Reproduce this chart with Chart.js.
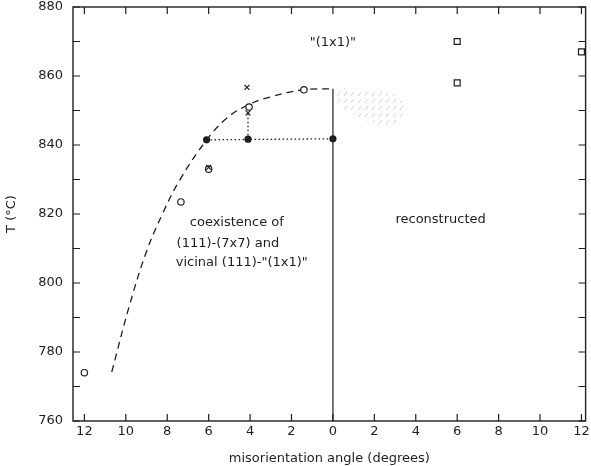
<!DOCTYPE html>
<html>
<head>
<meta charset="utf-8">
<script src="https://cdn.jsdelivr.net/npm/chart.js@4/dist/chart.umd.min.js"></script>
<style>
  html, body { margin: 0; padding: 0; background: #fff; }
  #wrap { width: 591px; height: 466px; }
</style>
</head>
<body>
<div id="wrap"><canvas id="phaseChart"></canvas></div>
<script>
// misorientation angle (left half negative, shown as absolute value) / T in degC
var xTicks = [-12, -10, -8, -6, -4, -2, 0, 2, 4, 6, 8, 10, 12];
var yTicks = [760, 780, 800, 820, 840, 860, 880];
var yMinor = [770, 790, 810, 830, 850, 870];

var boundaryX = [-10.68, -9.8, -8.99, -8.21, -7.39, -6.13, -5.12, -4.1, -3.04, -1.45, 0];
var boundaryT = [774.2, 794, 809.3, 820.3, 829.9, 841.2, 847.8, 851.6, 853.9, 856, 856.3];

var openX = [-12, -7.34, -6.0, -4.05, -1.4];
var openT = [774, 823.5, 833, 851, 856];

var filledX = [-6.1, -4.1, 0];
var filledT = [841.5, 841.7, 841.8];

var crossX = [-6.0, -4.15, -4.1];
var crossT = [833.5, 856.7, 849.3];

var squareX = [6, 6, 12];
var squareT = [870, 858, 867];

var hatchX = [0.2, 1.5, 2.8, 3.5, 3.4, 2.6, 1.5, 0.6, 0.2, 0.2];
var hatchT = [856.5, 856.2, 855, 852, 847.5, 845, 847.5, 850, 852, 856.5];

function pts(xs, ys) {
    return xs.map(function (x, i) { return { x: x, y: ys[i] }; });
}

var ink = "#1e1e1e";
var fontFam = "'DejaVu Sans', sans-serif";

// faint broken diagonal strokes for the stippled area
var pc = document.createElement("canvas");
pc.width = 7; pc.height = 7;
var pctx = pc.getContext("2d");
pctx.strokeStyle = "rgba(130,130,130,0.35)";
pctx.lineWidth = 1;
pctx.beginPath();
pctx.moveTo(1, 5); pctx.lineTo(4, 1);
pctx.stroke();
var hatchPattern = pctx.createPattern(pc, "repeat");

var notes = [
    { text: '"(1x1)"', x: 0.0, y: 869.6 },
    { text: "coexistence of", x: -4.64, y: 817.4 },
    { text: "(111)-(7x7) and", x: -5.07, y: 811.3 },
    { text: 'vicinal (111)-"(1x1)"', x: -4.4, y: 805.8 },
    { text: "reconstructed", x: 5.2, y: 818.3 }
];

var framePlugin = {
    id: "frame",
    afterDatasetsDraw: function (chart) {
        var ctx = chart.ctx, a = chart.chartArea;
        var xs = chart.scales.x, ys = chart.scales.y;
        ctx.save();
        ctx.strokeStyle = ink;
        ctx.lineWidth = 1.4;
        ctx.strokeRect(a.left, a.top, a.right - a.left, a.bottom - a.top);
        ctx.lineWidth = 1.2;
        ctx.beginPath();
        xTicks.forEach(function (v) {
            var p = xs.getPixelForValue(v);
            ctx.moveTo(p, a.bottom); ctx.lineTo(p, a.bottom - 7);
            ctx.moveTo(p, a.top); ctx.lineTo(p, a.top + 7);
        });
        yTicks.concat(yMinor).forEach(function (v) {
            var p = ys.getPixelForValue(v);
            ctx.moveTo(a.left, p); ctx.lineTo(a.left + 7, p);
            ctx.moveTo(a.right, p); ctx.lineTo(a.right - 7, p);
        });
        ctx.stroke();
        ctx.fillStyle = ink;
        ctx.font = "13px " + fontFam;
        ctx.textAlign = "center";
        ctx.textBaseline = "middle";
        notes.forEach(function (n) {
            ctx.fillText(n.text, xs.getPixelForValue(n.x), ys.getPixelForValue(n.y));
        });
        ctx.restore();
    }
};

(function () {
    var obj = document.getElementById("phaseChart").getContext("2d");
    new Chart(obj, {
        type: "scatter",
        data: {
            datasets: [
                {
                    label: "hatch",
                    data: pts(hatchX, hatchT),
                    showLine: true,
                    fill: "shape",
                    backgroundColor: hatchPattern,
                    borderWidth: 0,
                    pointRadius: 0,
                    order: 9
                },
                {
                    label: "boundary",
                    data: pts(boundaryX, boundaryT),
                    showLine: true,
                    tension: 0.4,
                    borderColor: ink,
                    borderWidth: 1.3,
                    borderDash: [7, 5],
                    pointRadius: 0,
                    order: 8
                },
                {
                    label: "zero line",
                    data: [{ x: 0, y: 856.3 }, { x: 0, y: 760 }],
                    showLine: true,
                    borderColor: ink,
                    borderWidth: 1.2,
                    pointRadius: 0,
                    order: 8
                },
                {
                    label: "dotted h",
                    data: [{ x: filledX[0], y: filledT[0] }, { x: filledX[2], y: filledT[2] }],
                    showLine: true,
                    borderColor: ink,
                    borderWidth: 1.3,
                    borderDash: [1.5, 2.5],
                    pointRadius: 0,
                    order: 8
                },
                {
                    label: "dotted v",
                    data: [{ x: filledX[1], y: filledT[1] }, { x: crossX[2], y: crossT[2] }],
                    showLine: true,
                    borderColor: ink,
                    borderWidth: 1.3,
                    borderDash: [1.5, 2.5],
                    pointRadius: 0,
                    order: 8
                },
                {
                    label: "open",
                    data: pts(openX, openT),
                    pointStyle: "circle",
                    pointRadius: 3.2,
                    pointBorderWidth: 1.2,
                    pointBorderColor: ink,
                    pointBackgroundColor: "#fff",
                    order: 2
                },
                {
                    label: "cross",
                    data: pts(crossX, crossT),
                    pointStyle: "crossRot",
                    pointRadius: 3.5,
                    pointBorderWidth: 1.2,
                    pointBorderColor: ink,
                    order: 1
                },
                {
                    label: "filled",
                    data: pts(filledX, filledT),
                    pointStyle: "circle",
                    pointRadius: 3.6,
                    pointBorderWidth: 0,
                    pointBackgroundColor: ink,
                    order: 1
                },
                {
                    label: "square",
                    data: pts(squareX, squareT),
                    pointStyle: "rect",
                    pointRadius: 4.2,
                    pointBorderWidth: 1.2,
                    pointBorderColor: ink,
                    pointBackgroundColor: "#fff",
                    order: 1
                }
            ]
        },
        options: {
            responsive: true,
            maintainAspectRatio: false,
            animation: false,
            layout: { padding: { left: 4, right: 3, top: 7, bottom: 0 } },
            plugins: {
                legend: { display: false },
                tooltip: { enabled: false }
            },
            scales: {
                x: {
                    type: "linear",
                    min: -12.55,
                    max: 12.2,
                    afterBuildTicks: function (s) {
                        s.ticks = xTicks.map(function (v) { return { value: v }; });
                    },
                    afterFit: function (s) {
                        s.height = 45;
                        s.paddingLeft = 0;
                        s.paddingRight = 0;
                    },
                    grid: { display: false, drawTicks: false },
                    border: { display: false },
                    ticks: {
                        color: ink,
                        padding: 3,
                        maxRotation: 0,
                        font: { family: fontFam, size: 13 },
                        callback: function (v) { return Math.abs(v); }
                    },
                    title: {
                        display: true,
                        text: "misorientation angle (degrees)",
                        color: ink,
                        padding: { top: 5, bottom: 0 },
                        font: { family: fontFam, size: 13 }
                    }
                },
                y: {
                    type: "linear",
                    min: 760,
                    max: 880,
                    afterBuildTicks: function (s) {
                        s.ticks = yTicks.map(function (v) { return { value: v }; });
                    },
                    afterFit: function (s) {
                        s.width = 69;
                        s.paddingTop = 0;
                        s.paddingBottom = 0;
                    },
                    grid: { display: false, drawTicks: false },
                    border: { display: false },
                    ticks: {
                        color: ink,
                        padding: 10,
                        font: { family: fontFam, size: 13 }
                    },
                    title: {
                        display: true,
                        text: "T (°C)",
                        color: ink,
                        padding: 0,
                        font: { family: fontFam, size: 13 }
                    }
                }
            }
        },
        plugins: [framePlugin]
    });
})();
</script>
</body>
</html>
